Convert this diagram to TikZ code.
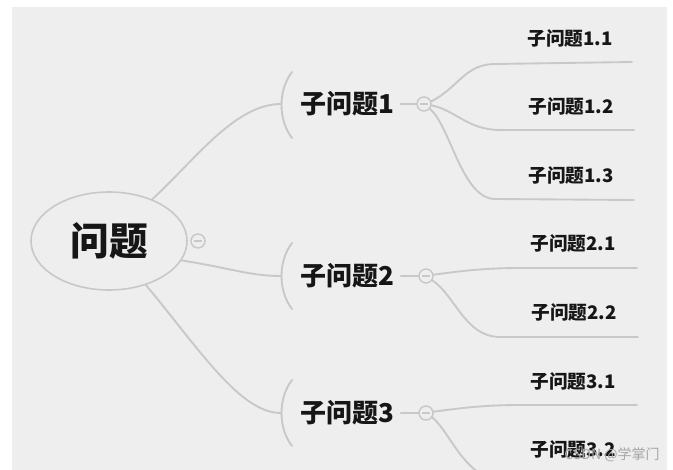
\documentclass[tikz,border=0pt]{standalone}
\usepackage{fontspec}
\usetikzlibrary{shapes.geometric}
\newfontfamily\cjk{Noto Sans CJK SC}
\definecolor{bgc}{RGB}{238,238,238}
\definecolor{linec}{RGB}{200,200,200}
\definecolor{textc}{RGB}{22,22,22}
\begin{document}
\begin{tikzpicture}[x=0.75pt,y=-0.75pt,
  conn/.style={draw=linec, line width=1.4pt, line cap=round},
  rootnode/.style={ellipse, draw=linec, line width=1.2pt, minimum width=117pt, minimum height=73.5pt, inner sep=0pt, text=textc, font=\cjk\bfseries\fontsize{29}{32}\selectfont},
  subnode/.style={inner xsep=5pt, inner ysep=2pt, text=textc, font=\cjk\bfseries\fontsize{19.5}{22}\selectfont},
  leafnode/.style={inner sep=0pt, text=textc, font=\cjk\bfseries\fontsize{14}{16}\selectfont},
  minus/.style={circle, draw=linec, line width=1.1pt, fill=bgc, minimum size=10.5pt, inner sep=0pt,
    path picture={\draw[linec, line width=0.9pt] ([xshift=-3pt]path picture bounding box.center) -- ([xshift=3pt]path picture bounding box.center);}}
]
\useasboundingbox (0,0) rectangle (673,470);
\clip (0,0) rectangle (673,470);
\fill[white] (0,0) rectangle (673,470);
\fill[bgc] (12,7) rectangle (667,470);

% root
\node[rootnode] (root) at (109,241) {问题};
\node[minus] (c0) at (198,241) {};

% level 1
\node[subnode] (s1) at (347,104) {子问题1};
\node[subnode] (s2) at (347,276) {子问题2};
\node[subnode] (s3) at (347,413) {子问题3};
\node[minus] (c1) at (424,104) {};
\node[minus] (c2) at (426,276) {};
\node[minus] (c3) at (426,413) {};

% bracket coordinates
\coordinate (b1t) at (292,72);  \coordinate (b1) at (281,104); \coordinate (b1b) at (292,138);
\coordinate (b2t) at (292,243); \coordinate (b2) at (281,276); \coordinate (b2b) at (292,309);
\coordinate (b3t) at (292,380); \coordinate (b3) at (281,413); \coordinate (b3b) at (292,446);
\draw[conn] (b1t) .. controls (278,90) and (278,120) .. (b1b);
\draw[conn] (b2t) .. controls (278,261) and (278,291) .. (b2b);
\draw[conn] (b3t) .. controls (278,398) and (278,428) .. (b3b);

% root connectors
\draw[conn] (root.44) .. controls (195,160) and (235,104) .. (b1);
\draw[conn] (root.-15) .. controls (230,268) and (250,276) .. (b2);
\draw[conn] (root.-50) .. controls (200,350) and (240,413) .. (b3);

% sub to minus
\draw[conn] (s1) -- (c1);
\draw[conn] (s2) -- (c2);
\draw[conn] (s3) -- (c3);

% leaf line ends
\coordinate (e11) at (632,62);
\coordinate (e12) at (634,130);
\coordinate (e13) at (634,200);
\coordinate (e21) at (637,268);
\coordinate (e22) at (638,337);
\coordinate (e31) at (637,405);
\coordinate (e32) at (640,480);

\draw[conn] (c1.20) .. controls (458,88) and (465,64) .. (495,64) -- (e11);
\draw[conn] (c1.-10) .. controls (455,110) and (468,130) .. (500,130) -- (e12);
\draw[conn] (c1.-40) .. controls (450,125) and (462,199) .. (495,199) -- (e13);
\draw[conn] (c2.10) .. controls (455,272) and (480,268) .. (520,268) -- (e21);
\draw[conn] (c2.-35) .. controls (455,295) and (465,337) .. (500,337) -- (e22);
\draw[conn] (c3.10) .. controls (455,409) and (480,405) .. (520,405) -- (e31);
\draw[conn] (c3.-35) .. controls (450,432) and (465,478) .. (500,480) -- (e32);

% leaves
\node[leafnode] (l11) at (570,38) {子问题1.1};
\node[leafnode] (l12) at (571,106) {子问题1.2};
\node[leafnode] (l13) at (571,175) {子问题1.3};
\node[leafnode] (l21) at (573,243) {子问题2.1};
\node[leafnode] (l22) at (574,312) {子问题2.2};
\node[leafnode] (l31) at (573,381) {子问题3.1};
\node[leafnode] (l32) at (573,449) {子问题3.2};

% watermark
\node[inner sep=0pt, text=gray!70, font=\cjk\fontsize{10.5}{12}\selectfont] (wm) at (612,455) {CSDN @学掌门};
\end{tikzpicture}
\end{document}
